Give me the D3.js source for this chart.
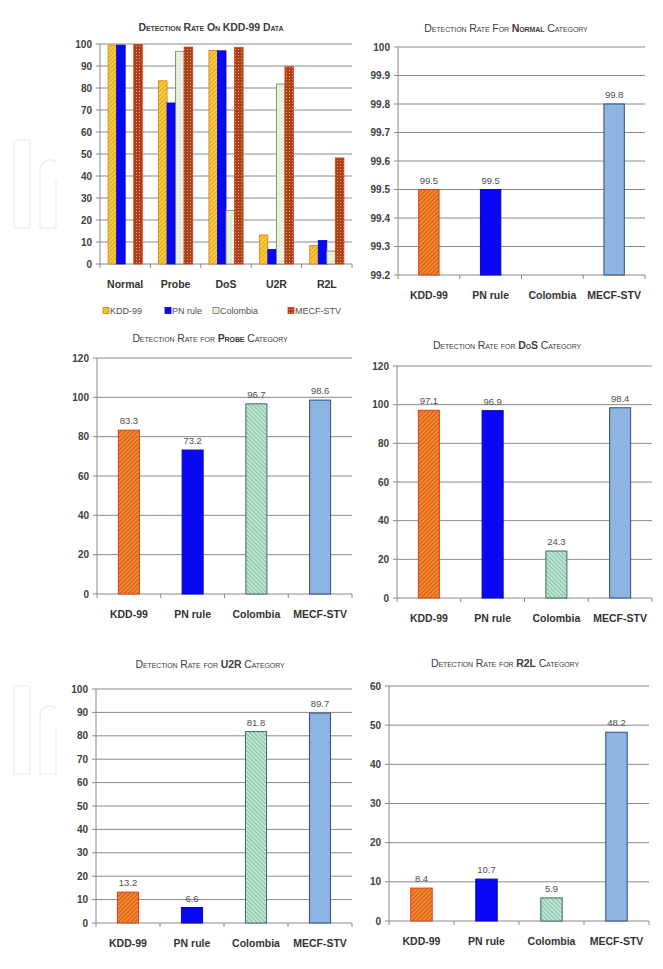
<!DOCTYPE html>
<html>
<head>
<meta charset="utf-8">
<script src="https://cdn.jsdelivr.net/npm/d3@7"></script>
<style>
  body { margin: 0; background: #fff; }
  svg { display: block; font-family: "Liberation Sans", Arial, sans-serif; }
  .tick-y { font-size: 10px; font-weight: bold; fill: #404040; }
  .cat { font-size: 10.5px; font-weight: bold; fill: #333; }
  .val { font-size: 9.5px; fill: #505050; }
  .title { font-size: 10.5px; fill: #404040; font-variant: small-caps; letter-spacing: -0.1px; }
</style>
</head>
<body>
<svg id="chart" width="663" height="969"></svg>
<script>
// data
const methods = ['KDD-99', 'PN rule', 'Colombia', 'MECF-STV'];
const categories = ['Normal', 'Probe', 'DoS', 'U2R', 'R2L'];
const kdd99   = [99.5, 83.3, 97.1, 13.2, 8.4];
const pnRule  = [99.5, 73.2, 96.9, 6.6, 10.7];
const colombia = [null, 96.7, 24.3, 81.8, 5.9];
const mecfStv = [99.8, 98.6, 98.4, 89.7, 48.2];
const series = [kdd99, pnRule, colombia, mecfStv];

const overviewTicks = d3.range(0, 101, 10);
const normalTicks = [99.2, 99.3, 99.4, 99.5, 99.6, 99.7, 99.8, 99.9, 100];
const probeTicks = [0, 20, 40, 60, 80, 100, 120];
const dosTicks = [0, 20, 40, 60, 80, 100, 120];
const u2rTicks = d3.range(0, 101, 10);
const r2lTicks = [0, 10, 20, 30, 40, 50, 60];

const svg = d3.select('#chart');
const defs = svg.append('defs');

function hatch(id, bg, fg, angle, size, sw) {
  let p = defs.append('pattern').attr('id', id)
    .attr('patternUnits', 'userSpaceOnUse')
    .attr('width', size).attr('height', size)
    .attr('patternTransform', `rotate(${angle})`);
  p.append('rect').attr('width', size).attr('height', size).attr('fill', bg);
  p.append('line').attr('x1', 0).attr('y1', 0).attr('x2', 0).attr('y2', size)
    .attr('stroke', fg).attr('stroke-width', sw);
}
function dots(id, bg, fg) {
  let p = defs.append('pattern').attr('id', id)
    .attr('patternUnits', 'userSpaceOnUse').attr('width', 3).attr('height', 3);
  p.append('rect').attr('width', 3).attr('height', 3).attr('fill', bg);
  p.append('rect').attr('x', 1).attr('y', 1).attr('width', 1).attr('height', 1).attr('fill', fg);
}
hatch('kddHatch', '#f58a2a', '#b8321a', 45, 3, 1.2);
hatch('kddYellow', '#f7d038', '#d07a18', 45, 3, 1.1);
hatch('colHatch', '#bfe6cf', '#4f9e8e', -45, 3, 1.1);
dots('colDots', '#e6eedb', '#fafff0');
dots('mecfDots', '#a8421c', '#e9a060');

const singleStyle = [
  { fill: 'url(#kddHatch)', stroke: '#d8401a' },
  { fill: '#0808f6', stroke: '#0606b0' },
  { fill: 'url(#colHatch)', stroke: '#3c6e68' },
  { fill: '#8db4e2', stroke: '#2f4f78' }
];
const overviewStyle = [
  { fill: 'url(#kddYellow)', stroke: '#e2781a' },
  { fill: '#0808f6', stroke: '#0606c8' },
  { fill: 'url(#colDots)', stroke: '#6e7e62' },
  { fill: 'url(#mecfDots)', stroke: '#e23a14' }
];

// faint watermark
[140, 686].forEach(wy => {
  let w = svg.append('g').attr('fill', 'none').attr('stroke', '#ececec').attr('stroke-width', 1.2);
  w.append('rect').attr('x', 14).attr('y', wy).attr('width', 16).attr('height', 88).attr('rx', 2);
  w.append('path').attr('d', `M40,${wy + 88} V${wy + 30} a10,10 0 0 1 16,-8 M40,${wy + 88} h16 V${wy + 40}`);
});

function frame(g, p, y, ticks, fmt) {
  g.selectAll('.grid').data(ticks).join('line')
    .attr('x1', p.x0).attr('x2', p.x1)
    .attr('y1', d => y(d)).attr('y2', d => y(d))
    .attr('stroke', '#8a8a8a').attr('stroke-width', 1);
  g.append('line').attr('x1', p.x0).attr('x2', p.x0).attr('y1', p.top).attr('y2', p.bottom)
    .attr('stroke', '#8a8a8a');
  g.selectAll('.ytk').data(ticks).join('line')
    .attr('x1', p.x0 - 4).attr('x2', p.x0).attr('y1', d => y(d)).attr('y2', d => y(d))
    .attr('stroke', '#8a8a8a');
  g.selectAll('.ylab').data(ticks).join('text').attr('class', 'tick-y')
    .attr('x', p.x0 - 8).attr('y', d => y(d)).attr('dy', '0.35em')
    .attr('text-anchor', 'end').text(fmt);
}

function title(g, p, parts) {
  let t = g.append('text').attr('class', 'title')
    .attr('x', p.tx).attr('y', p.ty).attr('text-anchor', 'middle');
  parts.forEach(([s, b]) => t.append('tspan').attr('font-weight', b ? 'bold' : 'normal').text(s));
}

function xAxis(g, p, x, labels) {
  let bounds = labels.map(d => x(d)).concat([p.x1]);
  g.selectAll('.xtk').data(bounds).join('line')
    .attr('x1', d => d).attr('x2', d => d).attr('y1', p.bottom).attr('y2', p.bottom + 4)
    .attr('stroke', '#8a8a8a');
  g.selectAll('.xlab').data(labels).join('text').attr('class', 'cat')
    .attr('x', d => x(d) + x.bandwidth() / 2).attr('y', p.labelY)
    .attr('text-anchor', 'middle').text(d => d);
}

// overview chart
(function () {
  const p = { x0: 100, x1: 352, top: 44, bottom: 264, tx: 211, ty: 31, labelY: 288 };
  const g = svg.append('g');
  const y = d3.scaleLinear().domain([0, 100]).range([p.bottom, p.top]);
  const x = d3.scaleBand().domain(categories).range([p.x0, p.x1]).paddingInner(0).paddingOuter(0);
  const xs = d3.scaleBand().domain(methods).range([0, x.bandwidth()]).paddingOuter(0.95).paddingInner(0);
  frame(g, p, y, overviewTicks, d => d);
  title(g, p, [['Detection Rate On KDD-99 Data', true]]);
  methods.forEach((m, mi) => {
    const pts = categories.map((c, ci) => ({ c, v: series[mi][ci] })).filter(d => d.v != null);
    g.selectAll('.bar' + mi).data(pts).join('rect')
      .attr('x', d => x(d.c) + xs(m))
      .attr('width', xs.bandwidth())
      .attr('y', d => y(d.v))
      .attr('height', d => p.bottom - y(d.v))
      .attr('fill', overviewStyle[mi].fill)
      .attr('stroke', overviewStyle[mi].stroke).attr('stroke-width', 0.8);
  });
  xAxis(g, p, x, categories);
  // legend
  const lx = [103, 165, 213, 288];
  const lg = g.selectAll('.leg').data(methods).join('g')
    .attr('transform', (d, i) => `translate(${lx[i]},311)`);
  lg.append('rect').attr('x', 0).attr('y', -3.5).attr('width', 6).attr('height', 6)
    .attr('fill', (d, i) => overviewStyle[i].fill)
    .attr('stroke', (d, i) => overviewStyle[i].stroke).attr('stroke-width', 0.8);
  lg.append('text').attr('x', 7).attr('dy', '0.35em')
    .attr('font-size', 9).attr('fill', '#505050').text(d => d);
})();

// single-category charts
const panels = [
  { ci: 0, ticks: normalTicks, domain: [99.2, 100], fmt: d => d3.format('.1f')(d).replace('100.0', '100'),
    p: { x0: 398, x1: 645, top: 47, bottom: 275, tx: 506, ty: 32, labelY: 299 }, name: 'Normal', pre: 'Detection Rate For ', post: ' Category' },
  { ci: 1, ticks: probeTicks, domain: [0, 120], fmt: d => d,
    p: { x0: 97, x1: 352, top: 358, bottom: 594, tx: 210, ty: 342, labelY: 618 }, name: 'Probe', pre: 'Detection Rate for ', post: ' Category' },
  { ci: 2, ticks: dosTicks, domain: [0, 120], fmt: d => d,
    p: { x0: 397, x1: 652, top: 366, bottom: 598, tx: 507, ty: 349, labelY: 622 }, name: 'DoS', pre: 'Detection Rate for ', post: ' Category' },
  { ci: 3, ticks: u2rTicks, domain: [0, 100], fmt: d => d,
    p: { x0: 96, x1: 352, top: 689, bottom: 923, tx: 210, ty: 668, labelY: 947 }, name: 'U2R', pre: 'Detection Rate for ', post: ' Category' },
  { ci: 4, ticks: r2lTicks, domain: [0, 60], fmt: d => d,
    p: { x0: 389, x1: 649, top: 686, bottom: 921, tx: 505, ty: 667, labelY: 945 }, name: 'R2L', pre: 'Detection Rate for ', post: ' Category' }
];

panels.forEach(pn => {
  const p = pn.p;
  const g = svg.append('g');
  const y = d3.scaleLinear().domain(pn.domain).range([p.bottom, p.top]);
  const x = d3.scaleBand().domain(methods).range([p.x0, p.x1]).paddingInner(0).paddingOuter(0);
  const bw = x.bandwidth() * 0.33;
  frame(g, p, y, pn.ticks, pn.fmt);
  title(g, p, [[pn.pre, false], [pn.name, true], [pn.post, false]]);
  const pts = methods.map((m, mi) => ({ m, mi, v: series[mi][pn.ci] })).filter(d => d.v != null);
  g.selectAll('.bar').data(pts).join('rect')
    .attr('x', d => x(d.m) + (x.bandwidth() - bw) / 2)
    .attr('width', bw)
    .attr('y', d => y(d.v))
    .attr('height', d => p.bottom - y(d.v))
    .attr('fill', d => singleStyle[d.mi].fill)
    .attr('stroke', d => singleStyle[d.mi].stroke).attr('stroke-width', 1);
  g.selectAll('.val').data(pts).join('text').attr('class', 'val')
    .attr('x', d => x(d.m) + x.bandwidth() / 2)
    .attr('y', d => y(d.v) - 6)
    .attr('text-anchor', 'middle').text(d => d.v.toFixed(1));
  xAxis(g, p, x, methods);
});
</script>
</body>
</html>
